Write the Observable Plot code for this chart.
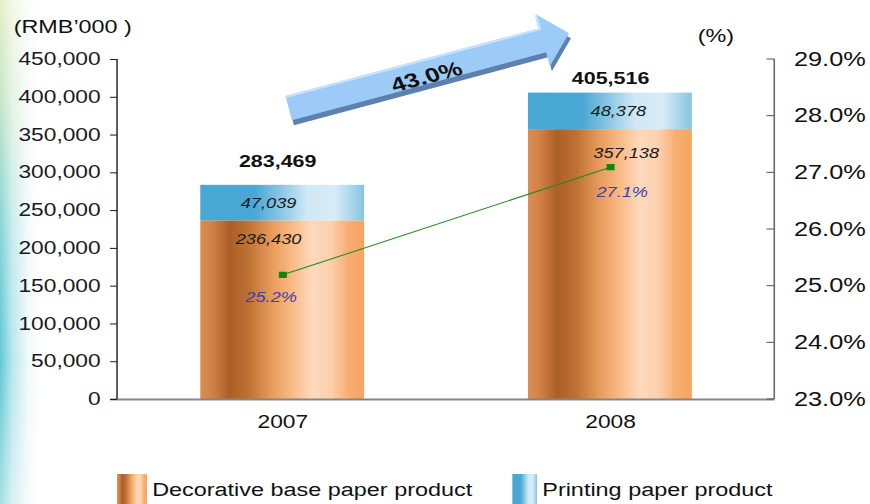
<!DOCTYPE html>
<html>
<head>
<meta charset="utf-8">
<script src="https://cdn.jsdelivr.net/npm/d3@7"></script>
<script src="https://cdn.jsdelivr.net/npm/@observablehq/plot@0.6"></script>
<style>
  html, body { margin: 0; padding: 0; }
  body {
    width: 870px; height: 504px; overflow: hidden; position: relative;
    background:
      linear-gradient(to right, rgba(255,255,255,0) 0px, rgba(255,255,255,0.55) 12px, rgba(255,255,255,0.9) 28px, #fff 40px),
      linear-gradient(to bottom, #e4f0c4 0%, #c2e6c6 20%, #86d4d8 45%, #5fc8d4 72%, #a6dfe4 100%);
    font-family: "Liberation Sans", Arial, Helvetica, sans-serif;
  }
  #chart { position: absolute; left: 0; top: 0; }
  #legend { position: absolute; left: 0; top: 450px; width: 669px; height: 60px;
            transform: scaleX(1.3004); transform-origin: 0 0; }
  #legend .sw { position: absolute; top: 24px; height: 34px; }
  #legend .lt { position: absolute; top: 31px; font-size: 18px; line-height: 18px; color: #111; white-space: nowrap; }
</style>
</head>
<body>
<div id="chart"></div>
<div id="legend"></div>
<script>
// ---------- data ----------
const years = ["2007", "2008"];
const decorative = [236430, 357138];
const printing = [47039, 48378];
const totals = [283469, 405516];
const marginPct = [25.2, 27.1];
const growthLabel = "43.0%";
const yTicks = [0, 50000, 100000, 150000, 200000, 250000, 300000, 350000, 400000, 450000];
const pctTicks = [23, 24, 25, 26, 27, 28, 29];
const seriesNames = ["Decorative base paper product", "Printing paper product"];
const unitLeft = "(RMB\u2019000 )";
const unitRight = "(%)";

// ---------- layout ----------
const W = 669, H = 450, S = 870 / W;
const yMax = 450000, pMin = 23, pMax = 29;
const toY = p => (p - pMin) / (pMax - pMin) * yMax;
const fromY = v => pMin + v / yMax * (pMax - pMin);
const fmt = d3.format(",");
const FONT = "Liberation Sans, Arial, Helvetica, sans-serif";

const orangeStops = [[0,"#dc8f52"],[0.08,"#cf7f44"],[0.18,"#ac5e28"],[0.3,"#bf7334"],[0.45,"#eb9f60"],[0.56,"#f9ba85"],[0.68,"#fdd9bc"],[0.8,"#fcd0ac"],[0.9,"#f8ae73"],[1,"#f6a45f"]];
const blueStops = [[0,"#48a7d3"],[0.33,"#49a8d4"],[0.5,"#8ec8e5"],[0.65,"#cfe8f5"],[0.82,"#d8ecf6"],[0.93,"#a6d4eb"],[1,"#86c4e2"]];

const rows = years.map((year, i) => ({year, dec: decorative[i], pr: printing[i], total: totals[i], pct: marginPct[i]}));

function defsMark() {
  const g = d3.create("svg:g");
  const defs = g.append("defs");
  const mk = (id, stops) => {
    const lg = defs.append("linearGradient").attr("id", id)
      .attr("x1", "0").attr("x2", "1").attr("y1", "0").attr("y2", "0");
    stops.forEach(([o, c]) => lg.append("stop").attr("offset", o).attr("stop-color", c));
  };
  mk("gOrange", orangeStops);
  mk("gBlue", blueStops);
  return g.node();
}

function axisLines(index, scales, values, dims) {
  const g = d3.create("svg:g");
  const {marginLeft: ml, marginRight: mr, marginTop: mt, marginBottom: mb, width, height} = dims;
  const xr = width - mr;
  g.append("line").attr("x1", ml).attr("x2", ml).attr("y1", mt).attr("y2", height - mb)
    .attr("stroke", "#333").attr("stroke-width", 1.2);
  g.append("line").attr("x1", xr).attr("x2", xr).attr("y1", mt).attr("y2", height - mb)
    .attr("stroke", "#666").attr("stroke-width", 1.2);
  // inward ticks on the right (percentage) axis
  pctTicks.forEach(p => {
    const yy = scales.y(toY(p));
    g.append("line").attr("x1", xr - 6).attr("x2", xr).attr("y1", yy).attr("y2", yy)
      .attr("stroke", "#555").attr("stroke-width", 1);
  });
  return g.node();
}

function growthArrow(index, scales) {
  const x = scales.x, y = scales.y;
  const bw = typeof x.bandwidth === "function" ? x.bandwidth() : (x.bandwidth || 0);
  // work in screen space (x stretched by S), convert back at the end
  const tail = [(x(years[0]) + bw / 2) * S + 6.5, y(385000)];
  const tip = [x(years[1]) * S + 41, y(484000)];
  const dx = tip[0] - tail[0], dy = tip[1] - tail[1];
  const L = Math.hypot(dx, dy);
  const d = [dx / L, dy / L], n = [-d[1], d[0]];
  const hw = 12.5, hh = 27, hl = 27;
  const base = [tip[0] - d[0] * hl, tip[1] - d[1] * hl];
  const P = (p, k) => [p[0] + n[0] * k, p[1] + n[1] * k];
  const pts = [P(tail, -hw), P(base, -hw), P(base, -hh), tip, P(base, hh), P(base, hw), P(tail, hw)];
  const toBase = p => [p[0] / S, p[1]];
  const poly = (ps, ox, oy) => ps.map(p => toBase([p[0] + ox, p[1] + oy]).join(",")).join(" ");
  const g = d3.create("svg:g");
  g.append("polygon").attr("points", poly(pts, 2, 5)).attr("fill", "#5e80ae");
  g.append("polygon").attr("points", poly(pts, 0, 0)).attr("fill", "#9dcbf8");
  g.append("polyline").attr("points", poly([pts[0], pts[1], pts[2]], 0, 1)).attr("fill", "none")
    .attr("stroke", "#c6e3ff").attr("stroke-width", 2);
  const t = (425 - tail[0]) / d[0];
  const c = toBase(P([tail[0] + d[0] * t, tail[1] + d[1] * t], 5));
  const ang = Math.atan2(d[1], d[0] / S) * 180 / Math.PI;
  g.append("text").attr("transform", `translate(${c[0]},${c[1]}) rotate(${ang})`)
    .attr("text-anchor", "middle").attr("dy", "0.35em")
    .attr("font-family", FONT).attr("font-weight", "bold").attr("font-size", 20).attr("fill", "#111")
    .text(growthLabel);
  return g.node();
}

const lab = [
  {tot: [-4, -24], seg: -11, dec: [-11, 19], pct: [-9, 23]},
  {tot: [0, -14], seg: 6, dec: [12, 23.5], pct: [9, 25]}
];

const labelMarks = rows.flatMap((r, i) => [
  Plot.text([r], {x: "year", y: "total", text: d => fmt(d.total), dx: lab[i].tot[0], dy: lab[i].tot[1],
    fontWeight: "bold", fontSize: 16.5, fill: "#111", fontFamily: FONT}),
  Plot.text([r], {x: "year", y: d => d.dec + d.pr / 2, text: d => fmt(d.pr), dx: lab[i].seg,
    fontStyle: "italic", fontSize: 14, fill: "#1a1a1a", fontFamily: FONT}),
  Plot.text([r], {x: "year", y: "dec", text: d => fmt(d.dec), dx: lab[i].dec[0], dy: lab[i].dec[1],
    fontStyle: "italic", fontSize: 14, fill: "#1a1a1a", fontFamily: FONT}),
  Plot.text([r], {x: "year", y: d => toY(d.pct), text: d => d.pct.toFixed(1) + "%", dx: lab[i].pct[0], dy: lab[i].pct[1],
    fontStyle: "italic", fontSize: 14, fill: "#4040a6", fontFamily: FONT})
]);

const chart = Plot.plot({
  width: W, height: H,
  marginLeft: 90, marginRight: W - 595.4, marginTop: 59, marginBottom: H - 399,
  style: {background: "transparent", height: H + "px", maxWidth: "none", fontFamily: FONT, overflow: "visible"},
  x: {type: "band", domain: years, paddingInner: 0.5, paddingOuter: 0.25, label: null},
  y: {domain: [0, yMax], label: null},
  marks: [
    defsMark,
    Plot.barY(rows, {x: "year", y1: 0, y2: "dec", fill: "url(#gOrange)"}),
    Plot.barY(rows, {x: "year", y1: "dec", y2: d => d.dec + d.pr, fill: "url(#gBlue)"}),
    Plot.ruleY([0], {stroke: "#858585", strokeWidth: 2, insetLeft: -5}),
    axisLines,
    Plot.axisY({anchor: "left", ticks: yTicks, tickFormat: fmt, tickSize: 5.4, tickPadding: 7.7,
      fontSize: 17.5, color: "#1a1a1a", label: null}),
    Plot.axisY({anchor: "right", ticks: pctTicks.map(toY), tickFormat: v => fromY(v).toFixed(1) + "%",
      tickSize: 0, tickPadding: 14.6, fontSize: 19.5, color: "#111", label: null}),
    Plot.axisX({tickSize: 0, tickPadding: 16, fontSize: 17.5, color: "#111", label: null}),
    Plot.line(rows, {x: "year", y: d => toY(d.pct), stroke: "#1d8c1d", strokeWidth: 1}),
    Plot.dot(rows, {x: "year", y: d => toY(d.pct), symbol: "square", r: 3.5, fill: "#0b870b", stroke: null}),
    ...labelMarks,
    Plot.text([unitLeft], {frameAnchor: "top-left", text: d => d, dx: -80, dy: -32, textAnchor: "start",
      lineAnchor: "middle", fontSize: 18, fill: "#111", fontFamily: FONT}),
    Plot.text([unitRight], {frameAnchor: "top-right", text: d => d, dx: -45.4, dy: -23.5, textAnchor: "middle",
      lineAnchor: "middle", fontSize: 18, fill: "#111", fontFamily: FONT}),
    growthArrow
  ]
});
chart.setAttribute("width", 870);
chart.setAttribute("preserveAspectRatio", "none");
chart.style.width = "870px";
document.getElementById("chart").appendChild(chart);

// ---------- legend ----------
const css = stops => "linear-gradient(to right, " + stops.map(([o, c]) => `${c} ${o * 100}%`).join(", ") + ")";
const legend = d3.select("#legend");
const items = [
  {name: seriesNames[0], stops: orangeStops, sx: 90, sw: 23, tx: 117},
  {name: seriesNames[1], stops: blueStops, sx: 394, sw: 19, tx: 417}
];
items.forEach(it => {
  legend.append("div").attr("class", "sw").style("left", it.sx + "px").style("width", it.sw + "px")
    .style("background", css(it.stops));
  legend.append("div").attr("class", "lt").style("left", it.tx + "px").text(it.name);
});
</script>
</body>
</html>
